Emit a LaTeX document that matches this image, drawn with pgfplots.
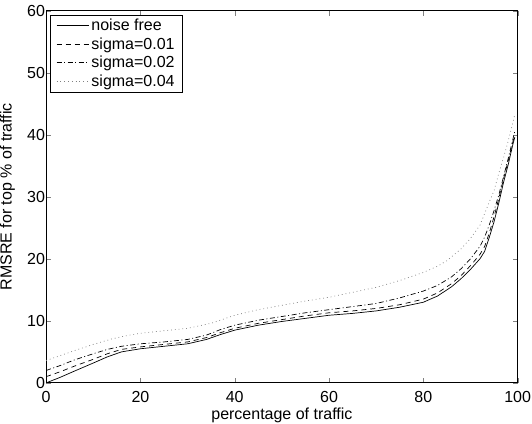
\documentclass[border={0pt 0pt 0pt 4bp}]{standalone}
\usepackage{fontspec}
\setmainfont{Liberation Sans}
\usepackage{pgfplots}
\pgfplotsset{compat=1.18}

\begin{document}
\begin{tikzpicture}
\begin{axis}[
    scale only axis,
    width=470bp,
    height=371bp,
    xmin=0, xmax=100,
    ymin=0, ymax=60,
    xtick={0,20,40,60,80,100},
    ytick={0,10,20,30,40,50,60},
    tick align=inside,
    major tick length=5bp,
    xtick pos=both, ytick pos=both,
    axis line style={line width=0.8pt},
    /pgf/number format/assume math mode=true,
    tick label style={font=\fontsize{16}{18}\selectfont},
    label style={font=\fontsize{16}{18}\selectfont},
    xticklabel style={inner sep=1bp, yshift=-7bp},
    yticklabel style={inner sep=1bp},
    xlabel={percentage of traffic},
    ylabel={RMSRE for top \% of traffic},
    xlabel style={inner sep=0pt, yshift=-4.5bp},
    ylabel style={inner sep=0pt, yshift=11bp},
    legend style={at={(0,1)}, xshift=4bp, yshift=-4bp, anchor=north west, draw=black,
        font=\fontsize{16}{18}\selectfont, row sep=1.5pt,
        inner xsep=6pt, inner ysep=2pt},
    legend cell align=left,
    legend image post style={xscale=1.9},
]

% noise free
\addplot[black, line width=0.7pt] coordinates {
    (0,0) (3,0.9) (6,1.9) (10,3.2) (13,4.2) (16,5.0) (20,5.5) (25,5.9)
    (30,6.3) (34,7.0) (37,7.8) (40,8.5) (45,9.3) (50,9.9) (55,10.4)
    (60,10.9) (65,11.2) (70,11.6) (75,12.2) (80,13.0) (83,14.0) (86,15.5)
    (88,16.8) (90,18.3) (92,20.0) (93,21.2) (94,23.5) (95,26.0) (96,29.0)
    (97,32.3) (98,35.2) (99,38.5) (99.4,39.6)
};
\addlegendentry{noise free}

% sigma=0.01
\addplot[black, line width=0.7pt, dash pattern=on 5pt off 4pt] coordinates {
    (0,1.0) (3,1.8) (6,2.7) (10,3.8) (13,4.7) (16,5.4) (20,5.8) (25,6.2)
    (30,6.6) (34,7.3) (37,8.1) (40,8.8) (45,9.6) (50,10.2) (55,10.8)
    (60,11.3) (65,11.6) (70,12.0) (75,12.6) (80,13.5) (83,14.5) (86,16.0)
    (88,17.3) (90,18.9) (92,20.7) (93,22.0) (94,24.2) (95,26.8) (96,29.7)
    (97,32.9) (98,35.8) (99,38.9) (99.4,39.9)
};
\addlegendentry{sigma=0.01}

% sigma=0.02
\addplot[black, line width=0.7pt, dash pattern=on 5pt off 2.5pt on 1pt off 2.5pt] coordinates {
    (0,2.0) (3,2.8) (6,3.7) (10,4.7) (13,5.4) (16,5.9) (20,6.3) (25,6.6)
    (30,7.0) (34,7.7) (37,8.6) (40,9.3) (45,10.1) (50,10.7) (55,11.3)
    (60,11.8) (65,12.3) (70,12.8) (75,13.7) (80,14.8) (83,15.7) (86,17.1)
    (88,18.4) (90,20.0) (92,22.0) (93,23.5) (94,25.5) (95,27.8) (96,30.3)
    (97,33.2) (98,36.2) (99,39.3) (99.4,40.6)
};
\addlegendentry{sigma=0.02}

% sigma=0.04
\addplot[gray, line width=0.7pt, dash pattern=on 0.8pt off 3pt] coordinates {
    (0,3.6) (3,4.4) (6,5.2) (10,6.2) (14,7.1) (17,7.6) (20,8.0) (25,8.4)
    (30,8.8) (35,9.6) (40,10.9) (45,11.8) (50,12.5) (55,13.2) (60,13.8)
    (65,14.6) (70,15.4) (75,16.5) (80,17.8) (83,18.8) (85,19.7) (88,21.6)
    (90,23.3) (92,25.4) (94,29.2) (95,31.0) (96,33.8) (97,36.3) (98,39.0)
    (99,42.0) (99.3,43.0)
};
\addlegendentry{sigma=0.04}

\end{axis}
\end{tikzpicture}
\end{document}
